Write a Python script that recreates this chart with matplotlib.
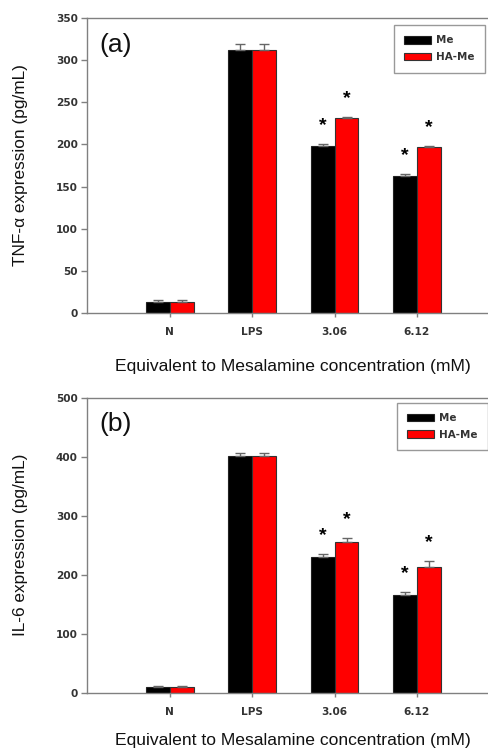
import matplotlib
matplotlib.use("Agg")
import matplotlib.pyplot as plt
from matplotlib.patches import Patch
import numpy as np

plt.rcParams['font.family'] = ['Liberation Sans', 'DejaVu Sans']

categories = ['N', 'LPS', '3.06', '6.12']
series = ['Me', 'HA-Me']

tnf_me = [13, 312, 198, 162]
tnf_me_err = [2, 7, 2, 2.5]
tnf_ha = [13, 312, 231, 197]
tnf_ha_err = [2, 7, 2, 1.5]
tnf_sig_me = [False, False, True, True]
tnf_sig_ha = [False, False, True, True]

il6_me = [10, 401, 230, 165]
il6_me_err = [1.5, 6, 5, 5]
il6_ha = [10, 401, 255, 213]
il6_ha_err = [1.5, 6, 8, 10]
il6_sig_me = [False, False, True, True]
il6_sig_ha = [False, False, True, True]

W, H = 489, 751
fig = plt.figure(figsize=(W / 100, H / 100), dpi=100)

spine_col = '#808080'
tick_col = '#333333'
bw = 0.29
tick_font = {'family': 'DejaVu Sans', 'weight': 'bold', 'size': 7.6}


def panel(rect, me, me_err, ha, ha_err, sig_me, sig_ha, ymax, ystep, ylabel, tag, leg_anchor, xlabpad):
    ax = fig.add_axes(rect)
    x = np.arange(1, len(categories) + 1)
    ax.bar(x - bw / 2, me, bw, color='black', edgecolor='#222222', linewidth=0.8, zorder=2)
    ax.bar(x + bw / 2, ha, bw, color='#ff0000', edgecolor='#333333', linewidth=0.8, zorder=2)
    zeros = np.zeros(len(me))
    ax.errorbar(x - bw / 2, me, yerr=[zeros, me_err], fmt='none', ecolor='#666666',
                elinewidth=1, capsize=3.5, capthick=1, zorder=3)
    ax.errorbar(x + bw / 2, ha, yerr=[zeros, ha_err], fmt='none', ecolor='#666666',
                elinewidth=1, capsize=3.5, capthick=1, zorder=3)
    for xs, vals, errs, sigs in ((x - bw / 2, me, me_err, sig_me), (x + bw / 2, ha, ha_err, sig_ha)):
        for xi, v, e, s in zip(xs, vals, errs, sigs):
            if s:
                ax.annotate('*', (xi, v + e), xytext=(0, 10), textcoords='offset points',
                            ha='center', va='baseline', fontsize=14, fontweight='bold',
                            color='black')
    ax.set_xlim(0, len(categories) + 1)
    ax.set_ylim(0, ymax)
    ax.set_yticks(np.arange(0, ymax + 1, ystep))
    ax.set_xticks(x)
    ax.set_xticklabels(categories)
    for sp in ['left', 'top', 'bottom']:
        ax.spines[sp].set_color(spine_col)
        ax.spines[sp].set_linewidth(1)
    ax.spines['right'].set_visible(False)
    ax.tick_params(axis='y', direction='out', length=4.5, width=1, color=spine_col,
                   labelcolor=tick_col, pad=2.5)
    ax.tick_params(axis='x', direction='out', length=3, width=1, color=spine_col,
                   labelcolor=tick_col, pad=7)
    for lab in ax.get_xticklabels() + ax.get_yticklabels():
        lab.set_fontproperties(tick_font)
    ax.set_ylabel(ylabel, fontsize=12.4, color='#111111', labelpad=20)
    ax.set_xlabel('Equivalent to Mesalamine concentration (mM)', fontsize=12.6,
                  color='#111111', labelpad=xlabpad)
    ax.text(0.03, 0.91, tag, transform=ax.transAxes, fontsize=19, ha='left', va='center',
            color='#111111')
    handles = [Patch(facecolor='black', edgecolor='#222222', linewidth=0.8, label=series[0]),
               Patch(facecolor='#ff0000', edgecolor='#333333', linewidth=0.8, label=series[1])]
    leg = ax.legend(handles=handles, loc='upper right', bbox_to_anchor=leg_anchor,
                    fancybox=False, frameon=True, edgecolor=spine_col,
                    handlelength=2.6, handleheight=0.75, handletextpad=0.5,
                    labelspacing=0.65, borderpad=1.0, borderaxespad=0.0,
                    prop={'family': 'DejaVu Sans', 'weight': 'bold', 'size': 7.5})
    leg.get_frame().set_linewidth(1)
    for t in leg.get_texts():
        t.set_color(tick_col)
    return ax


left = 87.5 / W
width = (499.3 - 87.5) / W
h = 295 / H

panel([left, (H - 313) / H, width, h], tnf_me, tnf_me_err, tnf_ha, tnf_ha_err,
      tnf_sig_me, tnf_sig_ha, 350, 50, 'TNF-\u03b1 expression (pg/mL)', '(a)',
      (0.966, 0.976), 16)
panel([left, (H - 692.7) / H, width, h], il6_me, il6_me_err, il6_ha, il6_ha_err,
      il6_sig_me, il6_sig_ha, 500, 100, 'IL-6 expression (pg/mL)', '(b)',
      (0.973, 0.983), 12)

fig.savefig('out.png', dpi=100)
